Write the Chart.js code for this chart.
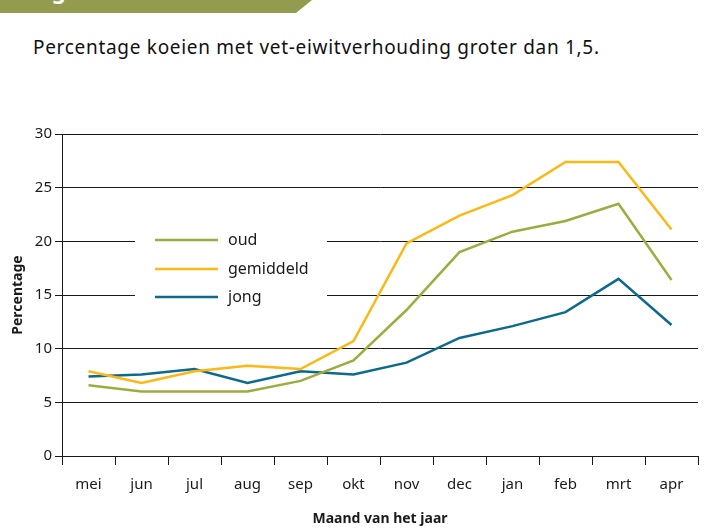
<!DOCTYPE html>
<html>
<head>
<meta charset="utf-8">
<script src="https://cdn.jsdelivr.net/npm/chart.js@4/dist/chart.umd.min.js"></script>
<style>
  body{margin:0;background:#fff;width:704px;height:529px;overflow:hidden;position:relative;font-family:'Noto Sans',sans-serif;}
  #banner{position:absolute;left:0;top:0;width:312px;height:13px;background:#939c4e;clip-path:polygon(0 0,312px 0,296px 13px,0 13px);overflow:hidden;}
  #banner span{position:absolute;left:33px;top:-23px;color:#fff;font-weight:bold;font-size:22px;line-height:26px;}
  #sub{position:absolute;left:33px;top:34px;font-size:19px;line-height:26px;letter-spacing:0.7px;color:#111;}
  #c{position:absolute;left:0;top:0;}
</style>
</head>
<body>
<div id="banner"><span>Figuur</span></div>
<div id="sub">Percentage koeien met vet-eiwitverhouding groter dan 1,5.</div>
<canvas id="c" width="704" height="529"></canvas>
<script>
// maanden en waarden
const months=['mei','jun','jul','aug','sep','okt','nov','dec','jan','feb','mrt','apr'];
const oud=[6.6,6.0,6.0,6.0,7.0,8.9,13.6,19.0,20.9,21.9,23.5,16.4];
const gemiddeld=[7.9,6.8,7.9,8.4,8.1,10.7,19.8,22.4,24.3,27.4,27.4,21.1];
const jong=[7.4,7.6,8.1,6.8,7.9,7.6,8.7,11.0,12.1,13.4,16.5,12.2];
const yTicks=[0,5,10,15,20,25,30];

const GREEN='#9dac3e', ORANGE='#fdb813', BLUE='#0d6a8e', INK='#1a1a1a';

Chart.defaults.font.family="'Noto Sans', sans-serif";

// legenda in het grafiekvlak, met wit vlak over de rasterlijnen
const legendBox={
  id:'legendBox',
  beforeDatasetsDraw(chart){
    const c=chart.ctx;
    c.save();
    c.fillStyle='#fff';
    c.fillRect(135,226,192,80);
    const rows=[240,269,297];
    chart.data.datasets.forEach((ds,i)=>{
      c.strokeStyle=ds.borderColor;
      c.lineWidth=2.5;
      c.beginPath();c.moveTo(155,rows[i]);c.lineTo(218,rows[i]);c.stroke();
      c.fillStyle=INK;
      c.font="16px 'Noto Sans', sans-serif";
      c.textBaseline='middle';
      c.fillText(ds.label,228,rows[i]);
    });
    c.restore();
  }
};

new Chart(document.getElementById('c'),{
  type:'line',
  data:{
    labels:months,
    datasets:[
      {label:'oud',data:oud,borderColor:GREEN},
      {label:'gemiddeld',data:gemiddeld,borderColor:ORANGE},
      {label:'jong',data:jong,borderColor:BLUE}
    ]
  },
  options:{
    responsive:false,
    animation:false,
    layout:{padding:{top:134,right:6,left:0,bottom:0}},
    elements:{line:{borderWidth:2.5,tension:0},point:{radius:0}},
    plugins:{legend:{display:false},tooltip:{enabled:false}},
    scales:{
      x:{
        offset:true,
        grid:{offset:true,drawOnChartArea:false,tickLength:9,color:INK,lineWidth:1},
        border:{color:INK,width:1},
        ticks:{color:INK,font:{size:15},padding:11},
        title:{display:true,text:'Maand van het jaar',color:INK,font:{size:14,weight:'bold'},padding:{top:4,bottom:2}},
        afterFit(s){s.height=73;}
      },
      y:{
        min:0,max:30,
        afterBuildTicks(s){s.ticks=yTicks.map(v=>({value:v}));},
        grid:{color:INK,lineWidth:1,tickLength:7},
        border:{color:INK,width:1},
        ticks:{color:INK,font:{size:15},padding:3},
        title:{display:true,text:'Percentage',color:INK,font:{size:14,weight:'bold'},padding:{top:10,bottom:0}},
        afterFit(s){s.width=62;}
      }
    }
  },
  plugins:[legendBox]
});
</script>
</body>
</html>
